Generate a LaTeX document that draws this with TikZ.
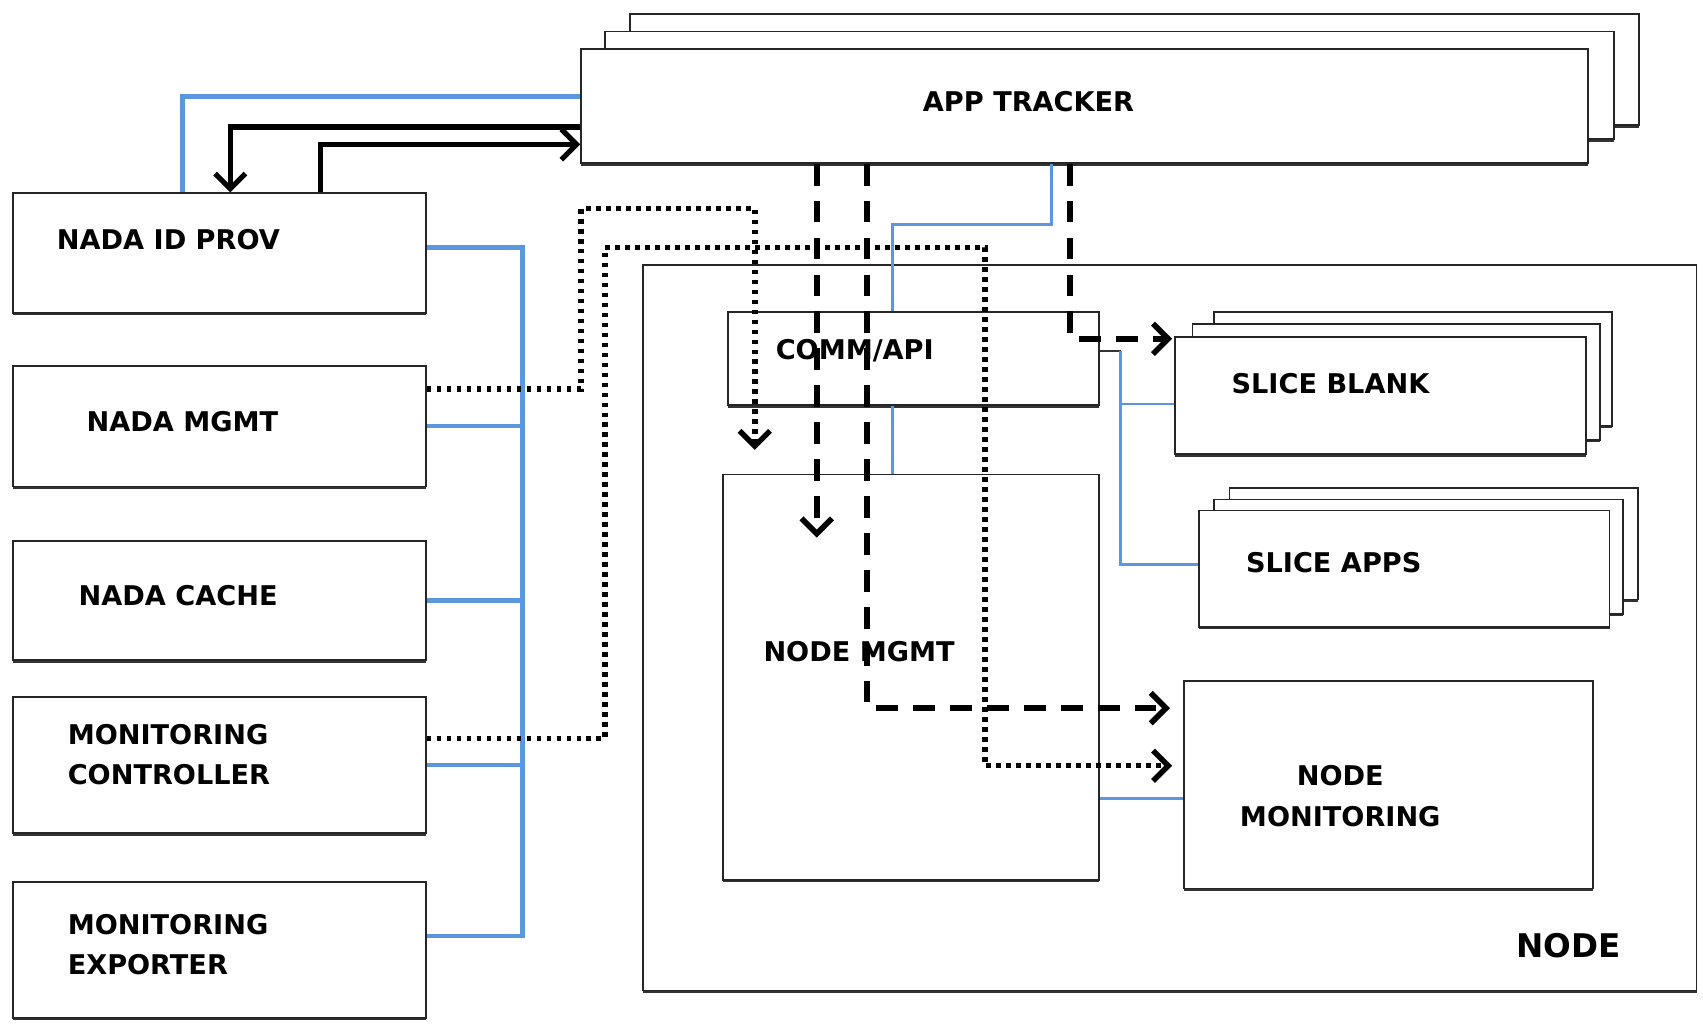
\documentclass[tikz,border=0pt]{standalone}
\usepackage{fontspec}
\newfontfamily\lblfont{DejaVu Sans}
\usetikzlibrary{arrows.meta, fit, shadows}
\definecolor{busblue}{RGB}{91,151,222}

\begin{document}
\begin{tikzpicture}[x=0.5pt, y=-0.5pt,
    box/.style={draw=black!85, line width=0.8pt, fill=white, inner sep=0pt,
      drop shadow={shadow xshift=0pt, shadow yshift=-1.2pt, fill=black!80, opacity=1}},
    lbl/.style={font=\lblfont\bfseries\fontsize{12.5}{18.5}\selectfont, inner sep=0pt},
    biglbl/.style={font=\lblfont\bfseries\fontsize{15}{19}\selectfont, inner sep=0pt},
    bus/.style={draw=busblue, line width=2pt},
    link/.style={draw=busblue, line width=1.3pt},
    ctl/.style={draw=black, line width=2.4pt, -{Straight Barb[length=7pt, width=14pt]}},
    dasharrow/.style={draw=black, line width=2.6pt, dash pattern=on 10pt off 7pt,
      -{Straight Barb[length=7pt, width=14pt]}},
    dotarrow/.style={draw=black, line width=2.5pt, dash pattern=on 2.2pt off 2.4pt,
      -{Straight Barb[length=7pt, width=14pt]}}]

    \useasboundingbox (0,0) rectangle (1568,946);

    % App tracker (stacked copies)
    \node[box, fit={(580,13) (1509,115)}] (apptr3) {};
    \node[box, fit={(557,29) (1486,128)}] (apptr2) {};
    \node[box, fit={(535,45) (1462,150)}] (apptr) {};
    \node[lbl] (apptr-t) at (947,94) {APP TRACKER};

    % Left column
    \node[box, fit={(12,178) (392,288)}] (idprov) {};
    \node[lbl, anchor=west] (idprov-t) at (52,221) {NADA ID PROV};
    \node[box, fit={(12,337) (392,448)}] (nmgmt) {};
    \node[lbl] (nmgmt-t) at (168,388) {NADA MGMT};
    \node[box, fit={(12,498) (392,608)}] (ncache) {};
    \node[lbl] (ncache-t) at (164,548) {NADA CACHE};
    \node[box, fit={(12,642) (392,767)}] (monctrl) {};
    \node[lbl, anchor=west, align=left] (monctrl-t) at (62,695) {MONITORING\\CONTROLLER};
    \node[box, fit={(12,812) (392,937)}] (monexp) {};
    \node[lbl, anchor=west, align=left] (monexp-t) at (62,870) {MONITORING\\EXPORTER};

    % Node (outer box)
    \node[box, fit={(592,244) (1562,912)}] (nodebox) {};
    \node[biglbl] (nodebox-t) at (1444,871) {NODE};

    % Inside the node
    \node[box, fit={(670,287) (1012,373)}] (comm) {};
    \node[lbl] (comm-t) at (787,323) {COMM/API};
    \node[box, fit={(666,437) (1012,810)}] (nodemgmt) {};
    \node[lbl] (nodemgmt-t) at (791,600) {NODE MGMT};

    \node[box, fit={(1118,287) (1484,392)}] (blank3) {};
    \node[box, fit={(1098,298) (1473,405)}] (blank2) {};
    \node[box, fit={(1082,310) (1460,418)}] (blank) {};
    \node[lbl] (blank-t) at (1225,353) {SLICE BLANK};

    \node[box, fit={(1132,449) (1508,552)}] (apps3) {};
    \node[box, fit={(1118,460) (1494,565)}] (apps2) {};
    \node[box, fit={(1104,470) (1482,577)}] (apps) {};
    \node[lbl] (apps-t) at (1228,518) {SLICE APPS};

    \node[box, fit={(1090,627) (1467,818)}] (nodemon) {};
    \node[lbl, align=center] (nodemon-t) at (1234,733) {NODE\\MONITORING};

    % Blue bus on the left
    \coordinate (busbot) at (481,862);
    \draw[bus] ([yshift=2.5pt]idprov.east) -| (busbot) -- (busbot -| monexp.east);
    \foreach \b in {nmgmt, ncache, monctrl}
      \draw[bus] (\b.east) -- (\b.east -| busbot);
    \draw[bus] ([yshift=4.25pt]apptr.west) -| ([xshift=-17pt]idprov.north);

    % Control arrows between app tracker and id prov
    \draw[ctl] ([yshift=-9.75pt]apptr.west) -| ([xshift=5pt]idprov.north);
    \draw[ctl] ([xshift=46.5pt]idprov.north) |- ([yshift=-17.75pt]apptr.west);

    % Dotted paths
    \coordinate (d1a) at (535,192);
    \draw[dotarrow, shorten >=11pt] ([yshift=17.25pt]nmgmt.east) -| (d1a) -| ([xshift=-72pt]nodemgmt.north);
    \coordinate (d2a) at (557,228);
    \coordinate (d2b) at (907,705);
    \draw[dotarrow, shorten >=5pt] ([yshift=12.25pt]monctrl.east) -| (d2a) -| (d2b) -- ([yshift=8.75pt]nodemon.west);

    % Dashed paths from app tracker
    \coordinate (m3) at (752,495);
    \draw[dasharrow] (apptr.south -| m3) -- (m3);
    \coordinate (m4) at (798,652);
    \draw[dasharrow, shorten >=6pt] (apptr.south -| m4) |- ([yshift=35.25pt]nodemon.west);
    \coordinate (m5) at (985,312);
    \draw[dasharrow, shorten >=1pt] (apptr.south -| m5) |- ([yshift=26pt]blank.west);

    % Blue links inside the node
    \coordinate (m6) at (968,207);
    \draw[link] (apptr.south -| m6) -- (m6) -| ([xshift=-9.5pt]comm.north);
    \draw[link] ([xshift=-9.5pt]comm.south) -- ([xshift=-9.5pt]comm.south |- nodemgmt.north);
    \coordinate (sbus) at (1032,323);
    \draw[black!80, line width=0.8pt] ([yshift=3.5pt]comm.east) -- (sbus);
    \draw[link] (sbus) |- ([yshift=1.75pt]apps.west);
    \draw[link] ([yshift=-4pt]blank.west) coordinate (mb) -- (mb -| sbus);
    \draw[link] ([yshift=-55.75pt]nodemgmt.east) coordinate (m9) -- (m9 -| nodemon.west);
\end{tikzpicture}
\end{document}
